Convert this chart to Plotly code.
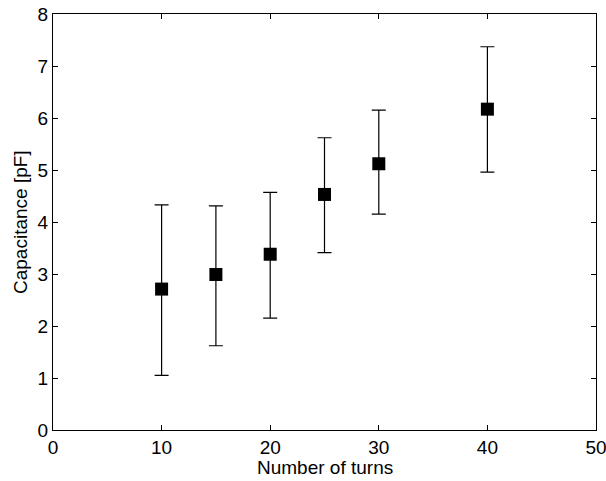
import plotly.graph_objects as go

turns = [10, 15, 20, 25, 30, 40]
capacitance = [2.71, 2.99, 3.38, 4.53, 5.12, 6.17]
err_upper = [4.33, 4.31, 4.57, 5.62, 6.15, 7.37]
err_lower = [1.05, 1.62, 2.15, 3.41, 4.15, 4.96]

plus = [u - c for u, c in zip(err_upper, capacitance)]
minus = [c - l for c, l in zip(capacitance, err_lower)]

FONT = "Liberation Sans, Arial, sans-serif"

fig = go.Figure()
fig.add_trace(go.Scatter(
    x=turns, y=capacitance, mode="markers",
    marker=dict(symbol="square", size=13, color="black", line=dict(width=0)),
    error_y=dict(type="data", symmetric=False, array=plus, arrayminus=minus,
                 color="black", thickness=1.2, width=7),
    showlegend=False,
))

axis_common = dict(
    showgrid=False, zeroline=False, showline=True, linecolor="black", linewidth=1.2,
    mirror="ticks", ticks="inside", ticklen=5, tickcolor="black", tickwidth=1,
    tickfont=dict(family=FONT, size=19, color="black"),
    automargin=False, ticklabeloverflow="allow",
)
fig.update_xaxes(range=[0, 50], tick0=0, dtick=10, **axis_common)
fig.update_yaxes(range=[0, 8], tick0=0, dtick=1, **axis_common)

fig.add_annotation(text="Number of turns", xref="paper", yref="paper", x=0.5, y=0,
                   xanchor="center", yanchor="middle", yshift=-37, showarrow=False,
                   font=dict(family=FONT, size=19, color="black"))
fig.add_annotation(text="Capacitance [pF]", xref="paper", yref="paper", x=0, y=0.5,
                   xanchor="center", yanchor="middle", xshift=-33, textangle=-90,
                   showarrow=False, font=dict(family=FONT, size=19, color="black"))

fig.update_layout(
    width=606, height=481,
    margin=dict(l=53, r=10, t=14, b=51, autoexpand=False),
    plot_bgcolor="white", paper_bgcolor="white",
)
# remove the default 8px page margin so the figure fills the window
fig.write_html("out.html", config={"displayModeBar": False},
               post_script="document.body.style.margin='0';document.body.style.overflow='hidden';")
